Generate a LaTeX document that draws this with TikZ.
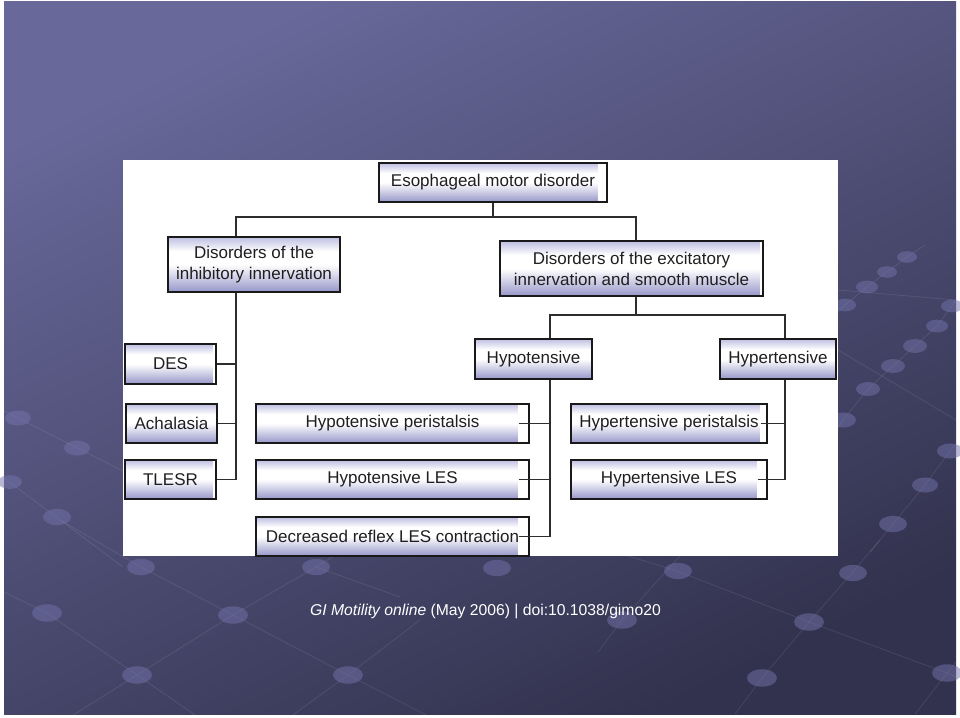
\documentclass[tikz,border=0pt]{standalone}
\usepackage{fontspec}
\newfontfamily\lib{Liberation Sans}
\usetikzlibrary{calc}
\definecolor{bgtop}{RGB}{104,104,154}
\definecolor{bgbot}{RGB}{50,50,78}
\definecolor{dotc}{RGB}{115,115,172}
\definecolor{boxtop}{RGB}{190,190,226}
\definecolor{boxbot}{RGB}{150,150,202}
\definecolor{linec}{RGB}{45,45,45}
\pgfdeclareverticalshading{boxshade}{100bp}{color(0bp)=(boxbot); color(25bp)=(boxbot); color(50bp)=(white); color(62bp)=(white); color(75bp)=(boxtop); color(100bp)=(boxtop)}
\tikzset{
  box/.style={rectangle, draw={rgb,255:red,25;green,25;blue,25}, line width=1.1pt,
    inner sep=0pt, align=center, shading=boxshade,
    font=\lib\fontsize{17}{21}\selectfont, text=black!88},
  strip/.style={path picture={\fill[white] ([xshift=-#1pt]path picture bounding box.north east) rectangle (path picture bounding box.south east);}},
  conn/.style={draw=linec, line width=1.3pt},
  dot/.style={fill=dotc, opacity=0.5},
  bgline/.style={draw=white, opacity=0.09, line width=0.8pt}
}
\begin{document}
\begin{tikzpicture}[x=1pt,y=-1pt]
\useasboundingbox (0,0) rectangle (960,717);
\fill[white] (0,0) rectangle (960,717);
% background
\shade[top color=bgtop, bottom color=bgbot, shading angle=25] (4,2) rectangle (956,714);
% faint lines
\draw[bgline] (0,409) -- (123,471);
\draw[bgline] (0,475) -- (123,567);
\draw[bgline] (0,590) -- (47,613) -- (137,675) -- (198,717);
\draw[bgline] (60,520) -- (141,567) -- (233,615) -- (348,675) -- (430,717);
\draw[bgline] (70,717) -- (137,675) -- (233,615) -- (316,567) -- (360,540);
\draw[bgline] (316,567) -- (400,597);
\draw[bgline] (290,717) -- (348,675) -- (420,620);
\draw[bgline] (560,535) -- (677,571) -- (809,622) -- (947,673) -- (956,677);
\draw[bgline] (735,714) -- (762,678) -- (809,622) -- (852,573) -- (880,540);
\draw[bgline] (598,652) -- (622,620) -- (680,556);
\draw[bgline] (915,714) -- (947,673) -- (956,662);
\draw[bgline] (838,312) -- (845,305) -- (867,287) -- (887,272) -- (907,257) -- (925,245);
\draw[bgline] (838,428) -- (843,420) -- (868,389) -- (893,366) -- (915,346) -- (937,326) -- (952,306) -- (956,300);
\draw[bgline] (870,552) -- (893,524) -- (925,485) -- (950,451) -- (956,444);
\draw[bgline] (838,290) -- (956,300);
\draw[bgline] (838,350) -- (956,420);
% dots
\foreach \x/\y/\r in {141/567/14, 316/567/14, 497/568/14, 678/571/14, 853/573/14,
  47/613/15, 233/615/15, 622/620/15, 809/622/15,
  137/675/15, 348/675/15, 762/678/15, 947/673/15,
  18/418/13, 77/448/13, 10/482/12, 57/517/14,
  907/257/10, 887/272/10, 867/287/11, 845/305/11, 952/306/11, 937/326/11, 915/346/12,
  893/366/12, 868/389/12, 843/420/13, 950/451/13, 925/485/13, 893/524/14}
  {\fill[dot] (\x,\y) ellipse ({\r} and {0.58*\r});}
% panel
\fill[white] (123,160) rectangle (838,556);
% nodes
\node[box, strip=9, minimum width=228pt, minimum height=39pt] (top) at (493,182.5) {Esophageal motor disorder};
\node[box, minimum width=172pt, minimum height=55pt] (inh) at (254,264.5) {Disorders of the\\inhibitory innervation};
\node[box, strip=3, minimum width=263pt, minimum height=55pt] (exc) at (631.5,268.5) {Disorders of the excitatory\\innervation and smooth muscle};
\node[box, minimum width=117pt, minimum height=40pt] (hypo) at (533.5,359) {Hypotensive};
\node[box, minimum width=116pt, minimum height=40pt] (hyper) at (778,359) {Hypertensive};
\node[box, strip=3, minimum width=91pt, minimum height=40pt] (des) at (170.5,364) {DES};
\node[box, minimum width=91pt, minimum height=39pt] (ach) at (171.5,423.5) {Achalasia};
\node[box, strip=3, minimum width=91pt, minimum height=39pt] (tles) at (170.5,479.5) {TLESR};
\node[box, strip=11, minimum width=273pt, minimum height=39pt] (hp) at (392.5,423.5) {Hypotensive peristalsis};
\node[box, strip=11, minimum width=273pt, minimum height=39pt] (hl) at (392.5,479.5) {Hypotensive LES};
\node[box, strip=11, minimum width=273pt, minimum height=39pt] (dec) at (392.5,536.5) {Decreased reflex LES contraction};
\node[box, strip=7, minimum width=196pt, minimum height=39pt] (yp) at (669,423.5) {Hypertensive peristalsis};
\node[box, strip=10, minimum width=196pt, minimum height=39pt] (yl) at (669,479.5) {Hypertensive LES};
% connector coordinates
\coordinate (b1L) at (236,217);
\coordinate (b1R) at (636,217);
\coordinate (b2L) at (550,315);
\coordinate (b2R) at (785,315);
% connectors
\draw[conn] (top.south) -- (top.south |- b1L);
\draw[conn] (b1L |- inh.north) -- (b1L) -- (b1R) -- (b1R |- exc.north);
\draw[conn] (b1L |- inh.south) -- (b1L |- tles.east);
\draw[conn] (des.east) -- (des.east -| b1L);
\draw[conn] (ach.east) -- (ach.east -| b1L);
\draw[conn] (tles.east) -- (tles.east -| b1L);
\draw[conn] (b1R |- exc.south) -- (b1R |- b2L);
\draw[conn] (b2L |- hypo.north) -- (b2L) -- (b2R) -- (b2R |- hyper.north);
\draw[conn] (b2L |- hypo.south) -- (b2L |- dec.east);
\draw[conn] ([xshift=-11pt]hp.east) -- (hp.east -| b2L);
\draw[conn] ([xshift=-11pt]hl.east) -- (hl.east -| b2L);
\draw[conn] ([xshift=-11pt]dec.east) -- (dec.east -| b2L);
\draw[conn] (b2R |- hyper.south) -- (b2R |- yl.east);
\draw[conn] ([xshift=-7pt]yp.east) -- (yp.east -| b2R);
\draw[conn] ([xshift=-10pt]yl.east) -- (yl.east -| b2R);
% caption
\node[text=white, font=\lib\fontsize{15.7}{19}\selectfont, inner sep=0pt] (cap) at (485.5,611) {\textit{GI Motility online} (May 2006) | doi:10.1038/gimo20};
\end{tikzpicture}
\end{document}
